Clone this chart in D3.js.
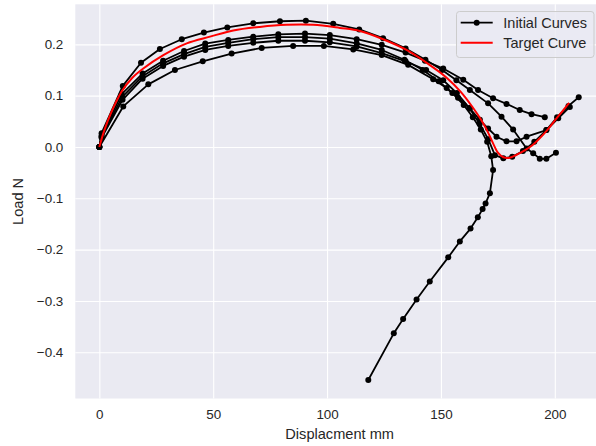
<!DOCTYPE html>
<html>
<head>
<meta charset="utf-8">
<script src="https://cdn.jsdelivr.net/npm/d3@7"></script>
<style>
  html, body { margin: 0; padding: 0; background: #ffffff; }
  svg { display: block; font-family: "Liberation Sans", Arial, sans-serif; }
</style>
</head>
<body>
<svg id="chart" width="596" height="446"></svg>
<script>
// Load–displacement curves: five initial curves and the target curve.
const initialCurve1 = [[0,0],[1,0.027],[10.3,0.119],[18.3,0.164],[26.6,0.191],[36.2,0.210],[45.9,0.223],[56.2,0.233],[67.6,0.241],[79.3,0.245],[90.7,0.246],[102.7,0.240],[114.1,0.229],[124.6,0.212],[134.5,0.192],[143.2,0.170],[150.5,0.150],[156.8,0.130],[162.7,0.111],[170.7,0.085],[176.6,0.059],[181.7,0.034],[187.6,-0.003],[190.5,-0.012],[193.4,-0.023],[196.3,-0.023],[200.5,-0.011]];
const initialCurve2 = [[0,0],[1,0.022],[9.8,0.103],[19,0.143],[28,0.168],[37.2,0.187],[46.5,0.2015],[56.6,0.2085],[67.6,0.215],[78.6,0.2195],[90.3,0.221],[101.2,0.218],[113,0.210],[124,0.199],[134.5,0.184],[143,0.168],[151,0.153],[159.8,0.131],[166.3,0.111],[172.9,0.095],[178.8,0.084],[184.6,0.072],[189.8,0.064],[195.6,0.058]];
const initialCurve3 = [[0,0],[1,0.02],[10,0.097],[19,0.138],[28,0.163],[37.2,0.181],[46.5,0.195],[56.6,0.203],[67.6,0.210],[78.6,0.214],[90.3,0.214],[101.2,0.211],[113,0.202],[124,0.189],[134,0.170],[142,0.150],[149,0.128],[155,0.105],[160,0.082],[164,0.058],[167.5,0.034],[170.3,0.010],[172.1,-0.018],[172.9,-0.045],[171.5,-0.090],[169.6,-0.110],[168.3,-0.121],[166.2,-0.137],[163,-0.159],[158.3,-0.184],[153.2,-0.215],[145.1,-0.262],[139.3,-0.297],[133.4,-0.335],[129.3,-0.363],[118.1,-0.454]];
const initialCurve4 = [[0,0],[1,0.018],[10.2,0.092],[19,0.133],[28,0.158],[37.2,0.176],[46.5,0.189],[56.6,0.197],[67.6,0.203],[78.6,0.207],[90.3,0.207],[101.2,0.204],[113,0.196],[124,0.183],[134.5,0.167],[143.5,0.150],[151,0.130],[157,0.105],[162.5,0.076],[167,0.045],[170.8,0.015],[173.7,-0.016],[177.4,-0.022],[181.3,-0.019],[186,-0.008],[191,0.010],[196.3,0.033],[201,0.058],[206,0.080],[210.5,0.097]];
const initialCurve5 = [[0,0],[10.5,0.079],[21.5,0.122],[33.2,0.150],[45.4,0.167],[58.1,0.182],[71.3,0.193],[85.1,0.197],[98.6,0.197],[111.5,0.190],[124,0.179],[135.6,0.160],[146.6,0.132],[152.5,0.115],[157.5,0.096],[162.7,0.075],[167.1,0.053],[170.7,0.036],[174.4,0.020],[178.8,0.011],[183.2,0.011],[187.6,0.020],[196.3,0.033],[201.5,0.056],[206.6,0.078]];
const targetCurve = [[0,0],[2,0.03],[5,0.065],[9.8,0.108],[14.5,0.135],[19.3,0.153],[28.1,0.179],[38.4,0.202],[48.6,0.215],[58.8,0.227],[70.5,0.234],[82.2,0.238],[93.9,0.238],[105.6,0.232],[114.4,0.226],[124.6,0.210],[134.9,0.189],[145,0.160],[152.5,0.135],[158.8,0.107],[164,0.077],[167.5,0.054],[170.5,0.030],[173,0.006],[175,-0.011],[177.4,-0.020],[180.2,-0.021],[185,-0.011],[190,0.003],[196.3,0.031],[201,0.057],[206.3,0.086]];

const xTicks = [0, 50, 100, 150, 200];
const yTicks = [-0.4, -0.3, -0.2, -0.1, 0.0, 0.1, 0.2];
const legendLabels = ["Initial Curves", "Target Curve"];
const xLabel = "Displacment mm";
const yLabel = "Load N";

const svg = d3.select("#chart");
const plot = { left: 75.3, right: 604, top: 4.3, bottom: 398.5 };

const x = d3.scaleLinear().domain([-10.55, 221.6]).range([plot.left, plot.right]);
const y = d3.scaleLinear().domain([-0.490, 0.278]).range([plot.bottom, plot.top]);

// plotting area background
svg.append("rect")
  .attr("x", plot.left).attr("y", plot.top)
  .attr("width", plot.right - plot.left).attr("height", plot.bottom - plot.top)
  .attr("fill", "#EAEAF2");

svg.append("clipPath").attr("id", "clip")
  .append("rect")
  .attr("x", plot.left).attr("y", plot.top)
  .attr("width", plot.right - plot.left).attr("height", plot.bottom - plot.top);

// gridlines via axes with full-length ticks
const gx = svg.append("g")
  .attr("transform", `translate(0,${plot.bottom})`)
  .call(d3.axisBottom(x).tickValues(xTicks).tickSize(-(plot.bottom - plot.top)).tickPadding(11).tickFormat(d3.format("d")));
const gy = svg.append("g")
  .attr("transform", `translate(${plot.left},0)`)
  .call(d3.axisLeft(y).tickValues(yTicks).tickSize(-(plot.right - plot.left)).tickPadding(12).tickFormat(d3.format(".1f")));

[gx, gy].forEach(g => {
  g.select(".domain").remove();
  g.selectAll(".tick line").attr("stroke", "#ffffff").attr("stroke-width", 1.1);
  g.selectAll(".tick text").attr("fill", "#262626").attr("font-size", "13.4px")
    .attr("font-family", "'Liberation Sans', Arial, sans-serif");
});

// axis titles
svg.append("text")
  .attr("x", (plot.left + plot.right) / 2).attr("y", 439)
  .attr("text-anchor", "middle").attr("fill", "#262626").attr("font-size", "14.6px")
  .text(xLabel);
svg.append("text")
  .attr("transform", `translate(23,${(plot.top + plot.bottom) / 2}) rotate(-90)`)
  .attr("text-anchor", "middle").attr("fill", "#262626").attr("font-size", "14.6px")
  .text(yLabel);

const line = d3.line().x(d => x(d[0])).y(d => y(d[1]));
const smooth = d3.line().x(d => x(d[0])).y(d => y(d[1])).curve(d3.curveCatmullRom.alpha(0.5));

const layer = svg.append("g").attr("clip-path", "url(#clip)");
const initialCurves = [initialCurve1, initialCurve2, initialCurve3, initialCurve4, initialCurve5];

initialCurves.forEach(c => {
  layer.append("path").datum(c)
    .attr("d", line).attr("fill", "none")
    .attr("stroke", "#000000").attr("stroke-width", 1.8).attr("stroke-linejoin", "round");
  layer.append("g").selectAll("circle").data(c).join("circle")
    .attr("cx", d => x(d[0])).attr("cy", d => y(d[1])).attr("r", 3)
    .attr("fill", "#000000");
});

layer.append("path").datum(targetCurve)
  .attr("d", smooth).attr("fill", "none")
  .attr("stroke", "#ff0000").attr("stroke-width", 2);

// legend
const lg = svg.append("g");
lg.append("rect")
  .attr("x", 456.5).attr("y", 11.5).attr("width", 137.5).attr("height", 46).attr("rx", 3)
  .attr("fill", "#EAEAF2").attr("fill-opacity", 0.8)
  .attr("stroke", "#cccccc").attr("stroke-width", 1);
const rows = [
  { label: legendLabels[0], color: "#000000", marker: true },
  { label: legendLabels[1], color: "#ff0000", marker: false }
];
rows.forEach((r, i) => {
  const yy = 22.7 + i * 20;
  lg.append("line").attr("x1", 460.7).attr("x2", 492.7).attr("y1", yy).attr("y2", yy)
    .attr("stroke", r.color).attr("stroke-width", r.marker ? 1.8 : 2);
  if (r.marker) lg.append("circle").attr("cx", 476.7).attr("cy", yy).attr("r", 3).attr("fill", r.color);
  lg.append("text").attr("x", 503.3).attr("y", yy + 5)
    .attr("fill", "#262626").attr("font-size", "14.5px").text(r.label);
});
</script>
</body>
</html>
